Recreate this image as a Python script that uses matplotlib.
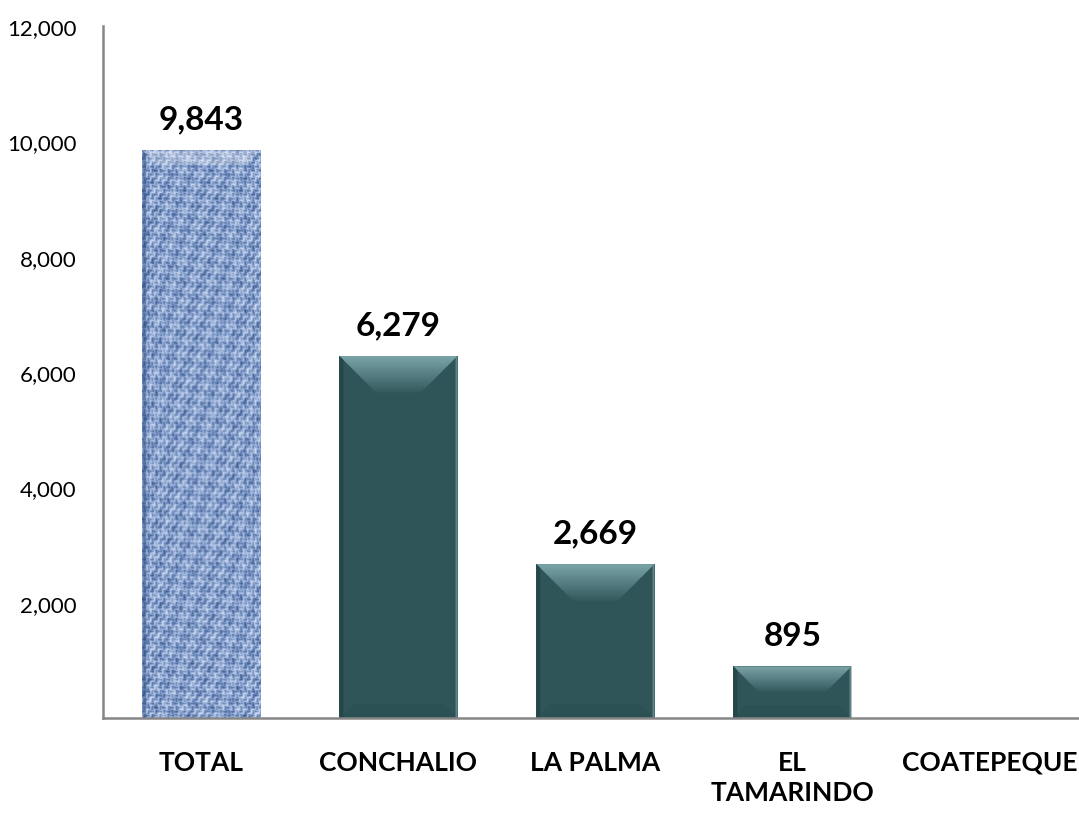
import matplotlib
matplotlib.use("Agg")
import matplotlib.pyplot as plt
from matplotlib.patches import Polygon
from matplotlib.colors import LinearSegmentedColormap
import numpy as np

plt.rcParams['font.family'] = ['Lato', 'DejaVu Sans']

categories = ['TOTAL', 'CONCHALIO', 'LA PALMA', 'EL\nTAMARINDO', 'COATEPEQUE']
values = [9843, 6279, 2669, 895, 0]
yticks = [2000, 4000, 6000, 8000, 10000, 12000]

W, H, DPI = 1079, 820, 100
fig = plt.figure(figsize=(W / DPI, H / DPI), dpi=DPI)
ax = fig.add_axes([103 / W, 101 / H, 1 - 103 / W, (719 - 27) / H])

x = np.arange(len(categories))
teal = '#2f5559'
bars = ax.bar(x, values, width=0.6, color=teal, zorder=2)

ax.set_xlim(-0.5, 4.455)
ax.set_ylim(0, 12000)

# pixel -> data scale for the bevel edges
px_x = (4.455 + 0.5) / (W - 103)
px_y = 12000 / (719 - 27)
bev = 37

top_cmap = LinearSegmentedColormap.from_list('top', ['#33595d', '#7ba4a8'])
blue_cmap = LinearSegmentedColormap.from_list('weave', ['#3a5788', '#6885b8', '#a9bde0', '#d2ddf0'])

for i, b in enumerate(bars):
    h = b.get_height()
    if h <= 0:
        continue
    x0, w = b.get_x(), b.get_width()
    x1 = x0 + w
    dy = min(bev * px_y, h / 2)
    dx = dy / px_y * px_x
    if i == 0:
        # woven fabric look for TOTAL
        ny, nx = int(h / px_y), int(w / px_x)
        yy, xx = np.mgrid[0:ny, 0:nx]
        checker = ((xx // 4 + yy // 4) % 2).astype(float)
        hthr = np.cos(np.pi * yy / 4) ** 2
        vthr = np.cos(np.pi * xx / 4) ** 2
        tex = checker * hthr + (1 - checker) * vthr
        tex = tex + 0.45 * np.sin(xx * 0.23 + yy * 0.17) * np.sin(yy * 0.31 - xx * 0.11) \
            + 0.3 * np.sin(xx * 0.9 + np.cos(yy * 0.4) * 2)
        tex = (tex - tex.min()) / (tex.max() - tex.min())
        img = ax.imshow(tex, cmap=blue_cmap, extent=[x0, x1, 0, h], aspect='auto',
                        origin='lower', zorder=3, interpolation='bilinear')
        img.set_clip_path(b)
        d2 = 14
        ax.add_patch(Polygon([(x0, h), (x1, h), (x1 - d2 * px_x, h - d2 * px_y),
                              (x0 + d2 * px_x, h - d2 * px_y)],
                             closed=True, color='white', alpha=0.3, lw=0, zorder=4))
        ax.add_patch(Polygon([(x0, h), (x0 + 4 * px_x, h - 4 * px_y), (x0 + 4 * px_x, 0), (x0, 0)],
                             closed=True, color='#2a4a80', alpha=0.5, lw=0, zorder=4))
        continue
    # top bevel with gradient
    grad = np.linspace(0, 1, 60).reshape(-1, 1)
    top = Polygon([(x0, h), (x1, h), (x1 - dx, h - dy), (x0 + dx, h - dy)], closed=True,
                  facecolor='none', lw=0)
    ax.add_patch(top)
    im = ax.imshow(grad, cmap=top_cmap, extent=[x0, x1, h - dy, h], aspect='auto',
                   origin='lower', zorder=3)
    im.set_clip_path(top)
    # subtle bottom bevel and darker left edge
    db = min(14, dy / px_y / 2) * px_y
    dbx = db / px_y * px_x
    ax.add_patch(Polygon([(x0, 0), (x1, 0), (x1 - dbx, db), (x0 + dbx, db)],
                         closed=True, color='#2c5155', lw=0, zorder=3))
    ax.add_patch(Polygon([(x0, 0), (x0 + 4 * px_x, 0), (x0 + 4 * px_x, h - 4 * px_y), (x0, h)],
                         closed=True, color='#264649', lw=0, zorder=4))
    ax.add_patch(Polygon([(x1, 0), (x1 - 2 * px_x, 0), (x1 - 2 * px_x, h - 2 * px_y), (x1, h)],
                         closed=True, color='#5f8588', lw=0, zorder=4))

for b, v in zip(bars, values):
    if v > 0:
        ax.annotate(f'{v:,}', (b.get_x() + b.get_width() / 2, v), xytext=(0, 12),
                    textcoords='offset points', ha='center', va='bottom',
                    fontsize=24, fontweight='bold')

ax.set_xticks(x)
ax.set_xticklabels(categories, fontsize=19, fontweight='bold', linespacing=1.3)
ax.set_yticks(yticks)
ax.set_yticklabels([f'{t:,}' for t in yticks], fontsize=16)
ax.tick_params(axis='x', length=0, pad=23)
ax.tick_params(axis='y', length=0, pad=19)

for s in ['top', 'right']:
    ax.spines[s].set_visible(False)
for s in ['left', 'bottom']:
    ax.spines[s].set_color('#868686')
    ax.spines[s].set_linewidth(1.8)
    ax.spines[s].set_zorder(5)

fig.savefig('out.png', dpi=DPI)
